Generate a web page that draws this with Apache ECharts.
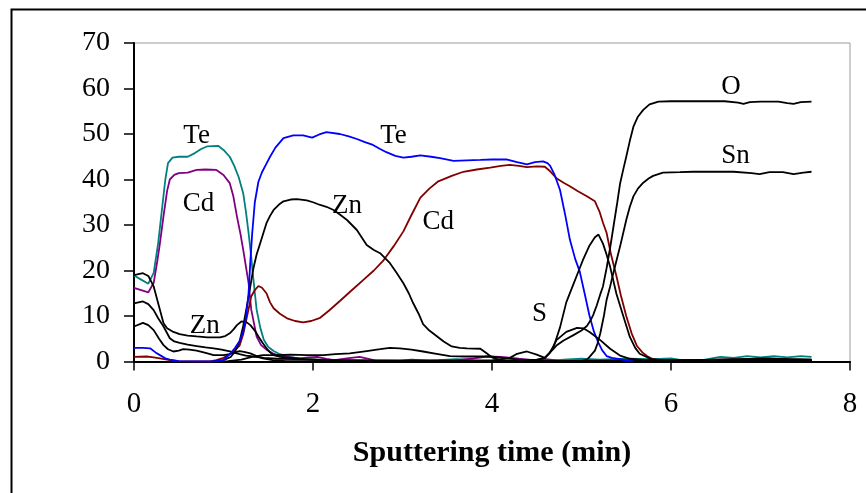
<!DOCTYPE html>
<html>
<head>
<meta charset="utf-8">
<script src="https://cdn.jsdelivr.net/npm/echarts@6/dist/echarts.min.js"></script>
<style>html,body{margin:0;padding:0;background:#fff;}#c{width:866px;height:493px;}</style>
</head>
<body>
<div id="c"></div>
<script>
// ---- Data (sputtering time in min, atomic concentration %) ----
const xTicks = [0, 2, 4, 6, 8];
const yTicks = [0, 10, 20, 30, 40, 50, 60, 70];

const teTop = [[0,18.9],[0.08,18],[0.16,17.1],[0.22,19.5],[0.27,26],[0.31,33],[0.35,40],[0.38,43.6],[0.43,44.8],[0.5,45],[0.6,45],[0.68,45.8],[0.75,46.7],[0.82,47.3],[0.94,47.4],[1.0,46.5],[1.07,45],[1.12,43],[1.17,40.5],[1.22,37],[1.25,33],[1.28,28.3],[1.31,23],[1.33,18.8],[1.37,11.4],[1.41,7.5],[1.45,4.8],[1.5,3.2],[1.56,2.3],[1.63,1.6],[1.71,1.2],[1.8,0.8],[1.9,0.5],[2.1,0.3],[2.5,0.2],[3.0,0.2],[3.4,0.3],[3.6,0.5],[3.8,0.3],[4.2,0.2],[4.6,0.1],[4.8,0.4],[5.0,0.6],[5.2,0.4],[5.5,0.6],[5.8,0.5],[6.0,0.7],[6.15,0.2],[6.35,0.3],[6.55,1.0],[6.7,0.8],[6.85,1.2],[7.0,0.9],[7.15,1.2],[7.3,0.9],[7.45,1.2],[7.57,1.0]];
const cdTop = [[0,16.2],[0.08,15.7],[0.16,15.2],[0.22,17.3],[0.26,22],[0.29,26],[0.33,32],[0.37,37.5],[0.4,40],[0.45,41],[0.5,41.4],[0.6,41.5],[0.7,42.1],[0.8,42.2],[0.92,42.1],[1.0,41],[1.07,39.2],[1.11,36.3],[1.15,31.9],[1.19,28],[1.22,24.6],[1.28,17.3],[1.31,11.4],[1.37,5.5],[1.42,3.6],[1.48,2.6],[1.55,1.8],[1.63,1.2],[1.75,0.9],[1.85,0.7],[1.95,0.9],[2.05,1.0],[2.15,0.6],[2.24,0.3],[2.38,0.7],[2.52,1.0],[2.62,0.6],[2.7,0.2],[2.97,0.2],[3.1,0.4],[3.3,0.2],[3.6,0.3],[3.8,0.7],[3.94,1.1],[4.1,1.0],[4.3,0.6],[4.46,0.3],[4.6,0.5],[4.75,0.2],[5.0,0.1],[5.5,0.2],[6.0,0.1],[6.5,0.2],[7.0,0.1],[7.57,0.2]];
const teMain = [[0,3.0],[0.1,3.0],[0.18,2.9],[0.24,2.0],[0.29,1.4],[0.35,0.7],[0.4,0.4],[0.5,0.1],[0.7,0],[0.9,0],[1.0,0.3],[1.07,1.6],[1.13,3.0],[1.18,4.5],[1.22,6.5],[1.25,9.5],[1.28,15],[1.3,22],[1.32,28],[1.35,35],[1.39,39.5],[1.43,41.6],[1.48,43.5],[1.52,45],[1.58,47],[1.67,49.1],[1.78,49.7],[1.89,49.7],[1.99,49.2],[2.07,49.9],[2.15,50.4],[2.3,50.0],[2.4,49.5],[2.49,48.9],[2.58,48.2],[2.67,47.6],[2.75,46.7],[2.82,46.0],[2.92,45.2],[3.01,44.8],[3.1,45.0],[3.2,45.3],[3.32,45.0],[3.42,44.7],[3.57,44.1],[3.72,44.2],[3.87,44.3],[4.0,44.4],[4.16,44.4],[4.28,43.8],[4.39,43.3],[4.48,43.8],[4.57,44.0],[4.62,43.6],[4.65,43.0],[4.7,41],[4.76,37.7],[4.82,32],[4.87,26.8],[4.93,22.5],[4.98,19.8],[5.04,14.5],[5.09,10],[5.14,6.5],[5.19,4.1],[5.23,2.5],[5.28,1.2],[5.34,0.8],[5.43,0.5],[5.5,0.2],[5.58,0]];
const cdMain = [[0,1.0],[0.14,1.1],[0.22,0.9],[0.29,0.7],[0.4,0.3],[0.5,0.1],[0.7,0],[0.85,0],[0.92,0.3],[1.0,0.8],[1.07,1.6],[1.13,2.5],[1.18,3.5],[1.22,6],[1.25,8.7],[1.28,11.5],[1.31,14.3],[1.35,15.7],[1.39,16.6],[1.43,16.2],[1.48,15.0],[1.52,13.0],[1.56,11.7],[1.63,10.5],[1.71,9.5],[1.8,8.9],[1.89,8.6],[1.98,8.9],[2.08,9.6],[2.18,11.2],[2.3,13.3],[2.43,15.6],[2.56,17.9],[2.68,20.0],[2.79,22.3],[2.9,25.3],[3.01,28.6],[3.1,32.2],[3.2,36.0],[3.3,38.0],[3.4,39.6],[3.55,40.8],[3.68,41.7],[3.83,42.2],[3.98,42.6],[4.1,43.0],[4.2,43.2],[4.3,43.0],[4.39,42.7],[4.5,42.9],[4.59,42.8],[4.65,41.8],[4.72,40.3],[4.8,39.3],[4.87,38.5],[4.96,37.4],[5.06,36.3],[5.15,35.2],[5.2,33],[5.24,30.5],[5.28,28.3],[5.33,23.5],[5.39,18.8],[5.44,14.5],[5.5,10],[5.56,6.2],[5.62,3.4],[5.68,2.0],[5.73,1.2],[5.8,0.5],[5.9,0.2],[6.1,0.1],[7.57,0.1]];
const znTop = [[0,19.0],[0.1,19.4],[0.16,18.8],[0.22,16.5],[0.27,12.8],[0.33,8.4],[0.37,7.3],[0.44,6.5],[0.51,6.0],[0.6,5.7],[0.7,5.5],[0.82,5.3],[0.96,5.3],[1.02,5.6],[1.07,6.2],[1.11,7.0],[1.15,8.0],[1.2,8.8],[1.22,8.9],[1.26,8.6],[1.3,8.0],[1.35,6.8],[1.39,5.5],[1.44,4.0],[1.48,2.9],[1.52,2.0],[1.56,1.4],[1.63,1.0],[1.75,0.8],[1.9,0.5],[2.2,0.3],[2.6,0.2],[3.5,0.1],[5.0,0.1],[6.0,0.2],[6.6,0.1],[7.57,0.2]];
const blackB = [[0,12.8],[0.1,13.2],[0.16,12.6],[0.22,11.3],[0.27,9.5],[0.33,7.7],[0.4,5.1],[0.45,4.4],[0.51,4.1],[0.6,3.7],[0.7,3.4],[0.8,3.1],[0.89,2.9],[0.98,2.6],[1.07,2.2],[1.18,1.6],[1.25,1.3],[1.33,1.1],[1.45,0.8],[1.6,0.6],[1.8,0.5],[2.2,0.3],[3.0,0.2],[4.0,0.2],[5.0,0.1],[6.0,0.2],[6.8,0.5],[7.1,0.7],[7.3,0.5],[7.57,0.4]];
const blackC = [[0,7.7],[0.1,8.5],[0.16,8.0],[0.22,6.9],[0.28,5.0],[0.33,3.6],[0.38,2.7],[0.44,2.2],[0.5,2.4],[0.55,2.7],[0.62,2.6],[0.7,2.4],[0.8,1.9],[0.89,1.4],[1.0,1.4],[1.07,1.6],[1.13,2.0],[1.18,2.3],[1.23,2.1],[1.3,1.8],[1.37,1.2],[1.44,0.7],[1.55,0.3],[1.7,0.1],[3.0,0.1],[4.5,0.1],[6.0,0.3],[6.5,0.2],[7.0,0.4],[7.57,0.3]];
const blackLow = [[0.9,0],[1.05,0.1],[1.2,0.4],[1.32,1.0],[1.44,1.4],[1.6,1.4],[1.75,1.5],[1.93,1.4],[2.12,1.4],[2.25,1.6],[2.41,1.8],[2.6,2.3],[2.75,2.7],[2.86,3.0],[2.97,2.9],[3.1,2.6],[3.23,2.2],[3.38,1.7],[3.53,1.2],[3.7,1.1],[3.98,1.1],[4.16,0.7],[4.3,0.4],[4.5,0.2],[5.0,0.1],[6.0,0.1],[7.57,0.1]];
const znMain = [[0.9,0],[1.0,0.3],[1.08,1.0],[1.13,2.2],[1.18,4.4],[1.22,7.8],[1.26,12],[1.3,16.5],[1.33,20.1],[1.37,23.5],[1.41,26],[1.45,28.5],[1.48,30.4],[1.52,32],[1.56,33.3],[1.62,34.5],[1.67,35.2],[1.75,35.6],[1.82,35.7],[1.93,35.4],[2.0,35.0],[2.08,34.4],[2.15,34.0],[2.23,33.3],[2.3,32.3],[2.38,31.1],[2.49,28.9],[2.6,25.6],[2.68,24.5],[2.75,23.8],[2.86,21.6],[2.93,19.6],[3.01,17.2],[3.07,15],[3.12,12.8],[3.18,10.5],[3.23,8.2],[3.3,6.8],[3.38,5.6],[3.46,4.4],[3.55,3.3],[3.64,3.0],[3.72,2.9],[3.87,2.8],[3.94,1.8],[4.0,0.9],[4.09,0.3],[4.2,0.1],[5.0,0],[6.0,0.1],[7.57,0.1]];
const sData = [[4.0,0.2],[4.2,0.8],[4.28,1.7],[4.39,2.2],[4.5,1.5],[4.59,0.8],[4.65,2.0],[4.72,4.7],[4.83,6.5],[4.95,7.4],[5.02,7.3],[5.09,6.5],[5.21,4.7],[5.32,2.8],[5.43,1.3],[5.54,0.6],[5.7,0.3],[6.0,0.2],[6.5,0.4],[7.0,0.6],[7.57,0.4]];
const peakData = [[4.3,0.2],[4.5,0.4],[4.59,0.8],[4.64,1.8],[4.69,3.3],[4.76,7.5],[4.83,13],[4.91,17],[4.96,19.5],[5.02,22.5],[5.09,25.5],[5.15,27.3],[5.19,27.9],[5.24,25.9],[5.28,23.5],[5.32,20.8],[5.39,14.9],[5.47,9.8],[5.54,5.4],[5.6,3.0],[5.65,1.7],[5.77,0.6],[5.9,0.3],[6.2,0.2],[6.6,0.3],[7.0,0.2],[7.57,0.2]];
const oData = [[4.5,0.2],[4.59,0.8],[4.66,2.2],[4.72,3.5],[4.8,4.6],[4.91,5.8],[5.0,6.8],[5.06,7.8],[5.1,9.0],[5.13,10.2],[5.17,12.3],[5.21,14.8],[5.24,16.5],[5.28,20.5],[5.32,25],[5.36,30],[5.4,35],[5.43,39],[5.47,42.5],[5.5,45],[5.54,48.5],[5.58,51.6],[5.63,53.8],[5.69,55.3],[5.76,56.5],[5.86,57.1],[6.0,57.2],[6.3,57.2],[6.6,57.2],[6.75,56.9],[6.81,56.6],[6.88,57.0],[7.0,57.1],[7.2,57.1],[7.3,56.8],[7.37,56.6],[7.45,57.0],[7.57,57.1]];
const snData = [[4.9,0],[5.0,0.1],[5.06,0.4],[5.09,1.0],[5.15,2.4],[5.18,4.0],[5.21,6.2],[5.25,10],[5.28,13.5],[5.32,16.5],[5.36,19.8],[5.43,25.2],[5.5,31.1],[5.54,34],[5.58,36.3],[5.63,38.0],[5.69,39.3],[5.75,40.2],[5.8,40.8],[5.91,41.5],[6.1,41.6],[6.25,41.7],[6.5,41.7],[6.7,41.7],[6.9,41.4],[6.99,41.2],[7.1,41.6],[7.25,41.6],[7.37,41.2],[7.48,41.5],[7.57,41.7]];

// element labels, placed at data coordinates
const labelNames = ['Te', 'Cd', 'Zn', 'Te', 'Zn', 'Cd', 'S', 'O', 'Sn'];
const labelTimes = [0.7, 0.72, 0.79, 2.9, 2.38, 3.4, 4.53, 6.67, 6.72];
const labelValues = [49.6, 34.6, 7.9, 49.6, 34.2, 30.6, 10.4, 60.4, 45.2];

const FONT = "'Liberation Serif', 'Times New Roman', serif";
const chart = echarts.init(document.getElementById('c'), null, {renderer: 'canvas'});

function line(data, color) {
  return {
    type: 'line', data: data, symbol: 'none', smooth: false, silent: true,
    lineStyle: {color: color, width: 1.8}, z: 2
  };
}

const labelData = labelNames.map((n, i) => ({name: n, value: [labelTimes[i], labelValues[i]]}));

chart.setOption({
  animation: false,
  backgroundColor: '#fff',
  grid: {left: 134, right: 16, top: 43, bottom: 131.5, show: true, borderColor: '#9a9a9a', borderWidth: 1, backgroundColor: 'transparent'},
  xAxis: {
    type: 'value', min: xTicks[0], max: xTicks[xTicks.length - 1], interval: 2,
    axisLine: {show: true, lineStyle: {color: '#000', width: 2}},
    axisTick: {show: true, inside: false, length: 9, lineStyle: {color: '#000', width: 1.5}},
    axisLabel: {color: '#000', fontFamily: FONT, fontSize: 29, margin: 28},
    splitLine: {show: false},
    name: 'Sputtering time (min)', nameLocation: 'middle', nameGap: 77,
    nameTextStyle: {color: '#000', fontFamily: FONT, fontSize: 30, fontWeight: 'bold'}
  },
  yAxis: {
    type: 'value', min: yTicks[0], max: yTicks[yTicks.length - 1], interval: 10,
    axisLine: {show: true, lineStyle: {color: '#000', width: 2}},
    axisTick: {show: true, inside: false, length: 10, lineStyle: {color: '#000', width: 1.5}},
    axisLabel: {color: '#000', fontFamily: FONT, fontSize: 28, margin: 24},
    splitLine: {show: false}
  },
  graphic: [{
    type: 'rect', left: 9, top: 7, silent: true,
    shape: {width: 900, height: 600},
    style: {fill: 'none', stroke: '#000', lineWidth: 2}
  }],
  series: [
    line(teTop, '#008080'),
    line(cdTop, '#800080'),
    line(cdMain, '#800000'),
    line(znTop, '#000'),
    line(blackB, '#000'),
    line(blackC, '#000'),
    line(blackLow, '#000'),
    line(znMain, '#000'),
    line(teMain, '#0000ff'),
    line(sData, '#000'),
    line(peakData, '#000'),
    line(oData, '#000'),
    line(snData, '#000'),
    {
      type: 'scatter', data: labelData, symbolSize: 2, silent: true, z: 5,
      itemStyle: {color: 'rgba(255,255,255,0)'},
      label: {show: true, position: 'inside', formatter: '{b}', color: '#000', opacity: 1,
              textBorderWidth: 0, fontFamily: FONT, fontSize: 27}
    }
  ]
});
</script>
</body>
</html>
